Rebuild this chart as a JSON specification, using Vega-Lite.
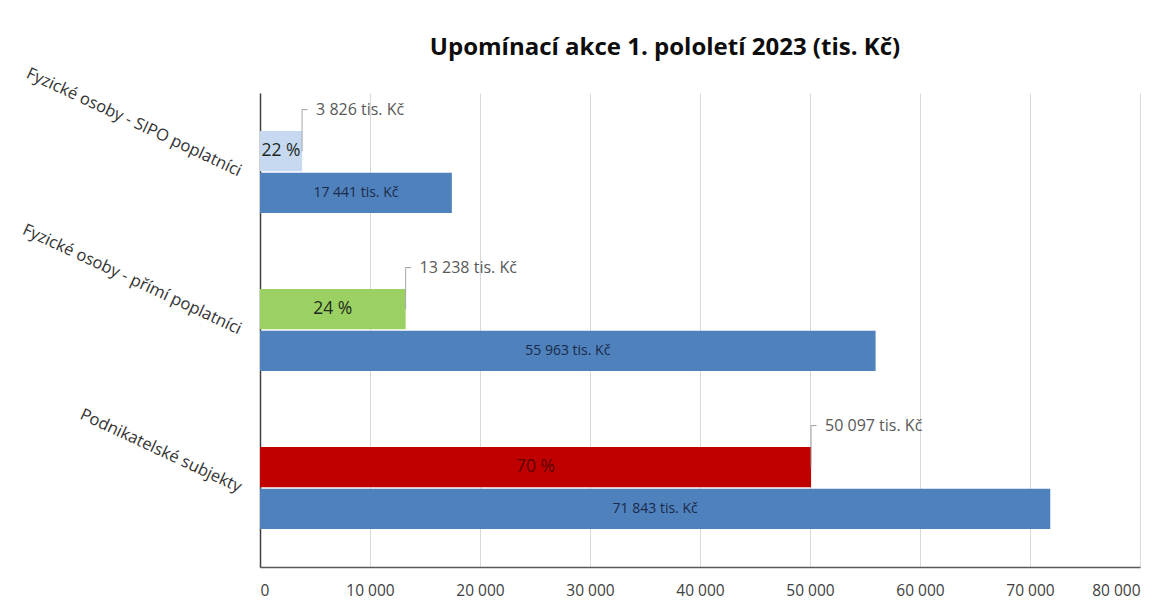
{
  "$schema": "https://vega.github.io/schema/vega-lite/v6.json",
  "width": 880,
  "height": 474,
  "autosize": {"type": "none"},
  "padding": {"left": 260, "top": 93, "right": 34, "bottom": 38},
  "background": "white",
  "config": {
    "locale": {"number": {"decimal": ",", "thousands": " ", "grouping": [3], "currency": ["", " tis. Kč"], "percent": " %"}},
    "view": {"stroke": null},
    "font": "Open Sans"
  },
  "title": {"text": "Upomínací akce 1. pololetí 2023 (tis. Kč)", "font": "Open Sans", "fontSize": 24, "fontWeight": "bold", "color": "#0D0D0D", "anchor": "middle", "dx": -35, "offset": 5},
  "data": {"values": [
    {"kategorie": "Fyzické osoby - SIPO poplatníci", "rada": "upomínáno", "hodnota": 3826, "podil": 0.22},
    {"kategorie": "Fyzické osoby - SIPO poplatníci", "rada": "celkem", "hodnota": 17441},
    {"kategorie": "Fyzické osoby - přímí poplatníci", "rada": "upomínáno", "hodnota": 13238, "podil": 0.24},
    {"kategorie": "Fyzické osoby - přímí poplatníci", "rada": "celkem", "hodnota": 55963},
    {"kategorie": "Podnikatelské subjekty", "rada": "upomínáno", "hodnota": 50097, "podil": 0.70},
    {"kategorie": "Podnikatelské subjekty", "rada": "celkem", "hodnota": 71843}
  ]},
  "layer": [
    {
      "mark": {"type": "bar"},
      "encoding": {
        "y": {"field": "kategorie", "type": "nominal", "sort": null,
          "scale": {"domain": ["Fyzické osoby - SIPO poplatníci", "Fyzické osoby - přímí poplatníci", "Podnikatelské subjekty"], "paddingInner": 0.48, "paddingOuter": 0.24},
          "axis": {"title": null, "domainColor": "#404040", "domainWidth": 1.5, "ticks": false, "labelAngle": 25, "labelAlign": "right", "labelBaseline": "middle", "labelPadding": 20, "labelFontSize": 16.5, "labelColor": "#333333", "labelLimit": 400, "grid": false}},
        "yOffset": {"field": "rada", "type": "nominal", "scale": {"domain": ["upomínáno", "celkem"], "paddingInner": 0.03}},
        "x": {"field": "hodnota", "type": "quantitative", "scale": {"domain": [0, 80000], "nice": false},
          "axis": {"title": null, "values": [0, 10000, 20000, 30000, 40000, 50000, 60000, 70000, 80000], "format": ",d", "grid": true, "gridColor": "#D9D9D9", "domainColor": "#595959", "domainWidth": 1.5, "ticks": false, "labelPadding": 16, "labelFontSize": 15.5, "labelColor": "#404040"}},
        "color": {"condition": {"test": "datum.rada === 'celkem'", "value": "#4F81BD"}, "field": "kategorie", "type": "nominal",
          "scale": {"domain": ["Fyzické osoby - SIPO poplatníci", "Fyzické osoby - přímí poplatníci", "Podnikatelské subjekty"], "range": ["#C6D9F1", "#9BD162", "#C00000"]}, "legend": null}
      }
    },
    {
      "transform": [{"filter": "datum.rada === 'celkem'"}],
      "mark": {"type": "text", "fontSize": 14, "color": "#1A2A48"},
      "encoding": {
        "y": {"field": "kategorie", "type": "nominal", "sort": null},
        "yOffset": {"field": "rada", "type": "nominal"},
        "x": {"field": "hodnota", "type": "quantitative", "scale": {"domain": [0, 160000], "nice": false}, "axis": null},
        "text": {"field": "hodnota", "type": "quantitative", "format": "$,d"}
      }
    },
    {
      "transform": [{"filter": "datum.rada === 'upomínáno'"}],
      "mark": {"type": "text", "fontSize": 17.5},
      "encoding": {
        "y": {"field": "kategorie", "type": "nominal", "sort": null},
        "yOffset": {"field": "rada", "type": "nominal"},
        "x": {"field": "hodnota", "type": "quantitative", "scale": {"domain": [0, 160000], "nice": false}, "axis": null},
        "text": {"field": "podil", "type": "quantitative", "format": ".0%"},
        "color": {"condition": {"test": "datum.kategorie === 'Podnikatelské subjekty'", "value": "#5A0000"}, "value": "#1E2A1E"}
      }
    },
    {
      "transform": [{"filter": "datum.rada === 'upomínáno'"}],
      "mark": {"type": "rule", "color": "#A6A6A6", "strokeWidth": 1},
      "encoding": {
        "x": {"field": "hodnota", "type": "quantitative", "scale": {"domain": [0, 80000], "nice": false}, "axis": null},
        "y": {"field": "kategorie", "type": "nominal", "sort": null, "bandPosition": 0.25},
        "y2": {"field": "kategorie", "bandPosition": -0.25}
      }
    },
    {
      "transform": [{"filter": "datum.rada === 'upomínáno'"}],
      "mark": {"type": "text", "text": "–", "align": "left", "baseline": "middle", "dx": -1, "fontSize": 14, "color": "#A6A6A6"},
      "encoding": {
        "x": {"field": "hodnota", "type": "quantitative", "scale": {"domain": [0, 80000], "nice": false}, "axis": null},
        "y": {"field": "kategorie", "type": "nominal", "sort": null, "bandPosition": -0.25}
      }
    },
    {
      "transform": [{"filter": "datum.rada === 'upomínáno'"}],
      "mark": {"type": "text", "align": "left", "baseline": "middle", "dx": 14, "fontSize": 16, "color": "#595959"},
      "encoding": {
        "x": {"field": "hodnota", "type": "quantitative", "scale": {"domain": [0, 80000], "nice": false}, "axis": null},
        "y": {"field": "kategorie", "type": "nominal", "sort": null, "bandPosition": -0.25},
        "text": {"field": "hodnota", "type": "quantitative", "format": "$,d"}
      }
    }
  ],
  "resolve": {"scale": {"x": "independent"}}
}
